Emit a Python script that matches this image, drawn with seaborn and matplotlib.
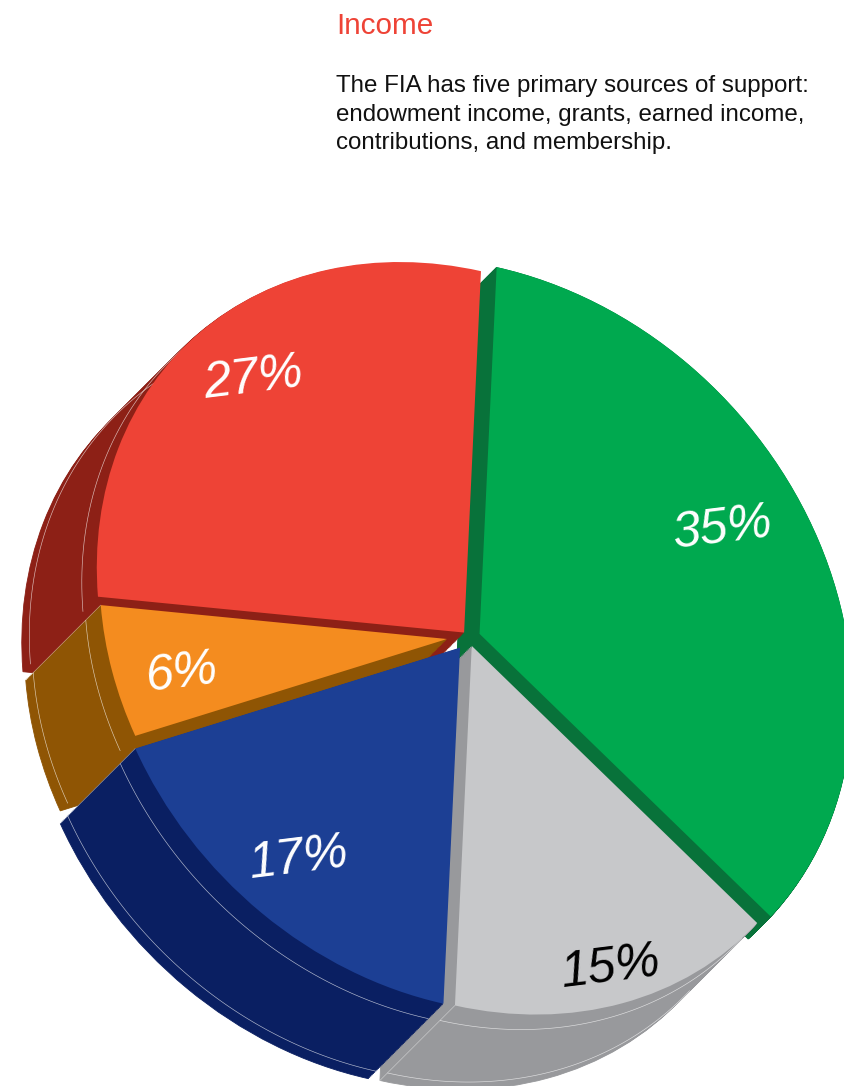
import matplotlib
matplotlib.use('Agg')
import numpy as np
import matplotlib.pyplot as plt
from matplotlib.transforms import Affine2D
import seaborn as sns

W, H = 845, 1086

sources = ['Endowment', 'Grants', 'Earned', 'Contributions', 'Membership']
shares = [35, 15, 17, 6, 27]
share_labels = ['35%', '15%', '17%', '6%', '27%']
explode = [0.035, 0.025, 0.040, 0.060, 0.015]
slice_size = [1.03, 1.01, 1.0, 0.96, 1.015]
slice_depth = [0.3, 1, 1, 1, 1]

top_colors = ['#00A94F', '#C7C8CA', '#1C3F94', '#F48C1F', '#EE4336']
side_colors = ['#08723A', '#98999C', '#0A1F62', '#8F5504', '#8D2016']
label_colors = ['white', 'black', 'white', 'white', 'white']
label_pos = [(723, 529), (611, 968), (299, 859), (181, 674), (253, 379)]
draw_rank = [0, 3, 4, 2, 1]
arc_sides = [False, True, True, True, True]
seam_sides = [False, True, True, True, False]

sns.set_theme(style='white')
plt.rcParams['font.family'] = ['Liberation Sans', 'DejaVu Sans']

fig = plt.figure(figsize=(W / 100, H / 100), dpi=100)
ax = fig.add_axes([0, 0, 1, 1])

RADIUS = 340
STRETCH = 1.125
SHEAR = -0.06
CENTER = (468, H - 637)
DEPTH = (-75, -75)
START = 84


def tilt(t=0.0):
    # unit pie -> tilted ellipse on the page, pushed back along the depth axis
    skew = Affine2D.from_values(1, SHEAR, 0, 1, 0, 0)
    return (Affine2D().rotate_deg(-135).scale(STRETCH, 1).rotate_deg(135)
            + skew
            + Affine2D().scale(RADIUS)
            .translate(CENTER[0] + DEPTH[0] * t, CENTER[1] + DEPTH[1] * t))


def pie_layer(colors, t, z_offset):
    wedges, _ = ax.pie(shares, explode=explode, colors=colors, startangle=START,
                       counterclock=False, radius=1, frame=True,
                       wedgeprops={'linewidth': 0.6, 'edgecolor': 'none'})
    for i, w in enumerate(wedges):
        w.set_radius(slice_size[i])
        w.set_transform(tilt(t * slice_depth[i]) + ax.transData)
        w.set_zorder(draw_rank[i] * 10 + z_offset)
        if z_offset < 5:
            w.set_edgecolor(colors[i])
    return wedges


# side walls, swept from the back layer to the front
steps = np.arange(60, 0, -1) / 60
for t in steps:
    pie_layer(side_colors, t, 1 - t)

# top faces
tops = pie_layer(top_colors, 0, 5)

# thin highlight arcs on the side walls
for t in [0.2, 0.9]:
    for i, w in enumerate(tops):
        if not arc_sides[i]:
            continue
        th = np.deg2rad(np.linspace(w.theta1, w.theta2, 80))
        x = w.center[0] + w.r * np.cos(th)
        y = w.center[1] + w.r * np.sin(th)
        ax.plot(x, y, color='white', lw=0.45, alpha=0.7,
                transform=tilt(t) + ax.transData,
                zorder=draw_rank[i] * 10 + 1.5, solid_capstyle='butt')

# seams where two side walls meet
for i, w in enumerate(tops):
    if not seam_sides[i]:
        continue
    cx = w.center[0] + w.r * np.cos(np.deg2rad(w.theta1))
    cy = w.center[1] + w.r * np.sin(np.deg2rad(w.theta1))
    p0 = tilt(0).transform((cx, cy))
    p1 = tilt(1).transform((cx, cy))
    ax.plot([p0[0], p1[0]], [p0[1], p1[1]], color='white', lw=0.45, alpha=0.5,
            zorder=draw_rank[i] * 10 + 1.6)

ax.set_xlim(0, W)
ax.set_ylim(0, H)
ax.set_aspect('auto')
ax.axis('off')

for i, txt in enumerate(share_labels):
    ax.text(label_pos[i][0], H - label_pos[i][1], txt, color=label_colors[i],
            fontsize=36, style='italic', rotation=7, ha='center', va='center',
            zorder=100)

ax.text(336, H - 34, 'Income', color='#EE4336', fontsize=21.4, va='baseline', zorder=100)
body_lines = ['The FIA has five primary sources of support:',
              'endowment income, grants, earned income,',
              'contributions, and membership.']
for n, line in enumerate(body_lines):
    ax.text(336, H - (92 + 28.5 * n), line, color='#111111', fontsize=17.35,
            va='baseline', zorder=100)

fig.savefig('out.png', dpi=100)
